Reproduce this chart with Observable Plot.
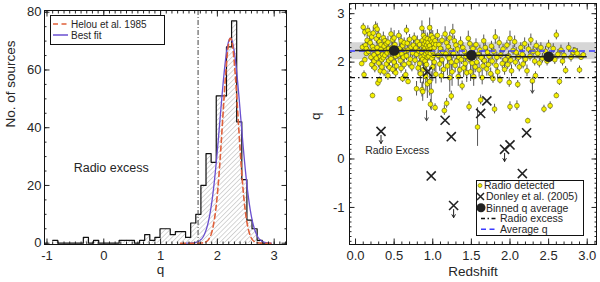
<!DOCTYPE html>
<html><head><meta charset="utf-8">
<script src="https://cdn.jsdelivr.net/npm/d3@7"></script>
<script src="https://cdn.jsdelivr.net/npm/@observablehq/plot@0.6"></script>
<style>
body{margin:0;background:#fff;}
#wrap{display:flex;width:600px;height:282px;}
svg{display:block}
</style></head><body><div id="wrap"></div>
<script>
const FONT = "'Liberation Sans', Arial, Helvetica, sans-serif";

// ---------- Left panel: histogram of q ----------
const binWidth = 0.09;
const binStart = [-0.90,-0.36,-0.18,0.27,0.36,0.45,0.63,0.72,0.81,0.90,0.99,1.08,1.17,1.26,1.35,1.44,1.53,1.62,1.71,1.80,1.89,1.98,2.07,2.16,2.25,2.34,2.43,2.52,2.61,2.70];
const binCount = [1,2,1,1,1,1,1,3,1,2,5,5,3,4,4,2,7,10,20,31,28,51,51,68,77,42,22,8,5,1];
// Gaussian curves (parameters)
const fitNames = ["Helou et al. 1985", "Best fit"];
const fitMean = [2.23, 2.23];
const fitSigma = [0.136, 0.183];
const fitPeak = [71, 71];
const fitRange = [[1.35, 2.95], [1.45, 2.95]];
const leftRadioExcess = 1.66;
const leftNotes = [{x: 0.13, y: 26.2, text: "Radio excess"}];

// ---------- Right panel: q vs redshift ----------
// [redshift, q, error]
const radioDetected = [
[0.08,1.97,0.05],[0.09,2.31,0.06],[0.10,2.72,0.08],[0.11,1.74,0.08],[0.12,2.62,0.1],[0.13,2.35,0.07],[0.14,2.18,0.06],[0.12,2.05,0.05],[0.15,2.45,0.1],[0.14,2.28,0.05],
[0.16,2.65,0.1],[0.17,2.22,0.08],[0.18,2.58,0.12],[0.19,2.40,0.1],[0.20,2.10,0.08],[0.21,2.52,0.1],[0.21,1.95,0.1],[0.22,2.32,0.06],[0.22,1.31,0.05],[0.23,2.25,0.1],[0.23,2.60,0.12],[0.24,2.15,0.08],[0.24,2.02,0.1],[0.25,1.88,0.1],
[0.26,2.73,0.1],[0.27,2.48,0.1],[0.27,2.08,0.08],[0.28,2.68,0.12],[0.28,2.30,0.1],[0.29,1.57,0.08],[0.29,2.20,0.1],[0.30,2.55,0.12],[0.30,1.98,0.1],[0.31,1.63,0.06],[0.31,2.42,0.1],[0.32,2.12,0.1],[0.32,1.82,0.1],[0.33,2.36,0.08],[0.33,2.26,0.1],[0.34,2.05,0.1],[0.34,1.90,0.08],[0.35,2.16,0.1],
[0.36,2.50,0.12],[0.36,2.09,0.1],[0.37,2.33,0.1],[0.37,1.80,0.1],[0.38,2.44,0.1],[0.38,2.14,0.08],[0.39,2.24,0.12],[0.40,1.96,0.1],[0.40,2.38,0.1],[0.41,2.19,0.1],[0.42,1.72,0.1],[0.42,2.41,0.12],[0.43,2.03,0.1],[0.43,2.28,0.1],[0.44,1.89,0.1],[0.45,2.21,0.1],
[0.46,2.58,0.12],[0.46,2.07,0.1],[0.47,2.30,0.12],[0.48,1.85,0.1],[0.48,2.46,0.1],[0.49,2.18,0.1],[0.50,2.50,0.15],[0.50,2.00,0.1],[0.51,2.36,0.1],[0.52,1.78,0.1],[0.52,2.12,0.1],[0.53,2.26,0.12],[0.53,1.92,0.1],[0.54,2.22,0.1],[0.55,2.15,0.1],
[0.56,2.55,0.1],[0.57,1.24,0.05],[0.57,2.28,0.1],[0.58,2.03,0.1],[0.59,2.44,0.12],[0.59,1.87,0.1],[0.60,2.17,0.1],[0.61,1.66,0.08],[0.61,2.34,0.1],[0.62,2.10,0.1],[0.63,1.95,0.1],[0.63,2.40,0.1],[0.64,2.23,0.1],[0.65,1.74,0.1],
[0.66,2.66,0.1],[0.66,2.13,0.1],[0.67,2.39,0.1],[0.68,1.60,0.06],[0.68,2.25,0.1],[0.69,1.98,0.1],[0.70,2.47,0.1],[0.71,2.06,0.1],[0.72,2.31,0.1],[0.73,1.90,0.1],[0.74,2.19,0.1],[0.75,2.35,0.1],
[0.76,2.50,0.1],[0.77,2.04,0.12],[0.78,2.29,0.1],[0.79,1.45,0.15],[0.79,2.16,0.1],[0.80,2.42,0.12],[0.81,1.88,0.15],[0.82,2.23,0.1],[0.83,1.97,0.12],[0.83,2.36,0.1],[0.84,1.76,0.2],[0.85,2.10,0.1],
[0.86,2.70,0.15],[0.86,2.20,0.1],[0.86,1.43,0.15],[0.87,2.45,0.12],[0.87,2.06,0.15],[0.87,1.39,0.2],[0.88,2.55,0.15],[0.88,2.32,0.12],[0.88,1.85,0.3],[0.89,2.38,0.1],[0.89,2.14,0.12],[0.89,2.26,0.15],[0.90,2.50,0.15],[0.90,2.02,0.2],[0.90,2.29,0.1],[0.91,2.42,0.12],[0.91,2.17,0.1],[0.91,1.70,0.3],[0.92,2.35,0.15],[0.92,2.23,0.1],[0.92,1.95,0.2],[0.93,2.48,0.12],[0.93,2.10,0.12],[0.93,1.55,0.3],[0.94,2.30,0.1],[0.94,2.40,0.12],[0.94,2.19,0.1],[0.95,2.25,0.15],[0.95,2.12,0.1],
[0.96,2.71,0.2],[0.96,2.34,0.1],[0.96,1.60,0.3],[0.97,2.46,0.15],[0.97,2.18,0.12],[0.97,1.13,0.1],[0.98,2.55,0.2],[0.98,2.27,0.1],[0.98,1.40,0.4],[0.99,2.42,0.12],[0.99,2.08,0.15],[1.00,2.50,0.15],[1.00,2.22,0.1],[1.00,1.90,0.3],[1.01,2.38,0.1],[1.01,2.14,0.12],[1.02,2.30,0.1],[1.02,2.00,0.2],[1.03,1.06,0.08],[1.03,2.44,0.12],[1.04,2.36,0.1],[1.04,1.75,0.2],
[1.06,2.55,0.12],[1.07,2.14,0.1],[1.08,2.36,0.12],[1.09,1.96,0.15],[1.10,2.28,0.1],[1.11,1.72,0.15],[1.12,2.45,0.1],[1.12,2.05,0.1],[1.13,2.21,0.1],[1.14,1.85,0.2],[1.15,1.00,0.1],
[1.16,2.58,0.15],[1.17,2.17,0.1],[1.18,1.15,0.1],[1.18,2.40,0.12],[1.19,1.92,0.2],[1.20,2.32,0.1],[1.21,2.08,0.1],[1.22,1.68,0.3],[1.22,2.50,0.12],[1.23,2.24,0.1],[1.24,1.30,0.1],[1.24,2.00,0.15],[1.25,1.80,0.3],
[1.26,2.63,0.15],[1.27,2.18,0.1],[1.28,2.44,0.1],[1.29,1.93,0.15],[1.30,2.35,0.1],[1.31,2.02,0.12],[1.32,2.27,0.1],[1.33,1.70,0.2],[1.34,2.10,0.1],[1.35,1.84,0.15],
[1.36,2.40,0.12],[1.37,2.05,0.1],[1.38,1.51,0.1],[1.39,2.30,0.1],[1.40,1.88,0.2],[1.41,2.22,0.1],[1.42,1.97,0.15],[1.43,2.12,0.1],[1.44,1.78,0.2],
[1.46,2.49,0.15],[1.47,1.08,0.1],[1.47,2.06,0.1],[1.48,2.38,0.12],[1.49,1.80,0.2],[1.50,2.20,0.1],[1.51,1.98,0.15],[1.52,2.28,0.1],[1.53,1.70,0.2],[1.54,2.13,0.1],[1.55,1.90,0.12],
[1.56,2.36,0.12],[1.57,2.00,0.15],[1.58,0.66,0.4],[1.59,2.16,0.1],[1.60,1.84,0.15],[1.61,2.25,0.1],[1.62,1.22,0.1],[1.63,2.09,0.1],[1.64,1.68,0.15],[1.65,1.92,0.1],
[1.66,2.44,0.12],[1.67,2.03,0.1],[1.68,2.30,0.1],[1.70,1.86,0.15],[1.71,2.20,0.1],[1.72,1.95,0.1],[1.73,2.12,0.1],[1.75,1.76,0.12],
[1.76,2.33,0.1],[1.77,2.02,0.1],[1.78,1.66,0.1],[1.79,2.22,0.1],[1.80,1.03,0.1],[1.81,2.52,0.15],[1.82,1.93,0.12],[1.83,2.10,0.1],[1.84,1.80,0.15],
[1.86,2.40,0.12],[1.87,1.63,0.08],[1.88,2.15,0.1],[1.90,1.97,0.1],[1.91,2.27,0.1],[1.93,1.85,0.12],[1.94,2.05,0.1],
[1.96,2.35,0.1],[1.97,1.95,0.1],[1.98,2.13,0.1],[1.99,1.58,0.1],[2.00,1.08,0.1],[2.00,2.49,0.15],[2.01,2.04,0.1],[2.02,1.82,0.12],[2.04,2.24,0.1],
[2.06,2.42,0.12],[2.07,2.00,0.1],[2.08,2.20,0.1],[2.09,1.10,0.1],[2.10,1.54,0.08],[2.11,2.10,0.1],[2.12,1.90,0.1],[2.14,2.30,0.1],
[2.16,2.16,0.1],[2.17,1.96,0.1],[2.19,2.38,0.12],[2.20,2.06,0.1],[2.22,1.82,0.12],[2.23,0.79,0.05],[2.24,2.27,0.1],
[2.26,2.12,0.1],[2.27,2.46,0.12],[2.29,1.61,0.08],[2.30,2.22,0.1],[2.32,2.02,0.1],[2.34,2.34,0.1],[2.33,1.72,0.08],
[2.36,2.18,0.1],[2.38,1.98,0.1],[2.40,2.30,0.1],[2.42,2.08,0.1],[2.44,1.03,0.08],
[2.46,2.22,0.1],[2.48,2.02,0.1],[2.50,2.35,0.1],[2.52,1.10,0.08],[2.54,2.12,0.1],
[2.56,2.28,0.1],[2.58,2.05,0.1],[2.60,2.56,0.1],[2.60,1.31,0.06],[2.62,2.16,0.1],[2.64,1.60,0.08],
[2.66,2.25,0.1],[2.68,2.02,0.1],[2.70,2.14,0.1],[2.72,1.83,0.08],
[2.76,2.30,0.1],[2.79,2.10,0.1],[2.82,2.20,0.1],[2.84,2.24,0.06],
[2.87,2.18,0.1],[2.90,1.84,0.08],[2.92,2.10,0.06],[2.95,2.15,0.05]
];
const radioLimits = [[0.92,1.04],[2.29,1.61]];
const donley = [[0.33,0.57],[0.93,1.80],[0.98,-0.35],[1.16,0.80],[1.24,0.46],[1.27,-0.96],[1.62,0.94],[1.70,1.20],[1.93,0.20],[2.00,0.29],[2.16,-0.30],[2.215,0.54]];
const donleyLimits = [[0.33,0.57],[1.27,-0.96],[1.93,0.20]];
const binnedZ = [0.5, 1.5, 2.5];
const binnedQ = [2.24, 2.14, 2.11];
const binnedHalfWidth = 0.5;
const averageQ = 2.23;
const averageBand = [2.05, 2.40];
const rightRadioExcess = 1.68;
const rightNotes = [{x: 0.54, y: 0.18, text: "Radio Excess"}];
const arrowLen = 0.25;

// ---------- derived tables ----------
const bins = binStart.map((s, i) => ({x1: s, x2: +(s + binWidth).toFixed(2), c: binCount[i]}));
const countByKey = new Map(bins.map(b => [b.x1.toFixed(2), b.c]));
const outline = [];
for (let k = -10; k <= 31; k++) {
  const x0 = +(k * binWidth).toFixed(2), x1 = +((k + 1) * binWidth).toFixed(2);
  const c = countByKey.get(x0.toFixed(2)) || 0;
  outline.push({x: x0, y: c}, {x: x1, y: c});
}
const curves = [];
fitNames.forEach((name, i) => {
  for (let x = fitRange[i][0]; x <= fitRange[i][1] + 1e-9; x += 0.005) {
    curves.push({name, x, y: fitPeak[i] * Math.exp(-0.5 * ((x - fitMean[i]) / fitSigma[i]) ** 2)});
  }
});
const radio = radioDetected.map(([z, q, e]) => ({z, q, e}));
const binned = binnedZ.map((z, i) => ({z, q: binnedQ[i]}));

const fmtStr = d => String(d);
const blank = () => "";
const INK = "#262626";

function frameAxes(xMajor, xMinor, yMajor, yMinor, xFmt, yFmt, xPad, yPad) {
  return [
    Plot.axisX({ticks: xMinor, tickSize: -2.5, tickFormat: blank, label: null, anchor: "bottom"}),
    Plot.axisX({ticks: xMinor, tickSize: -2.5, tickFormat: blank, label: null, anchor: "top"}),
    Plot.axisX({ticks: xMajor, tickSize: -5.5, tickFormat: blank, label: null, anchor: "bottom"}),
    Plot.axisX({ticks: xMajor, tickSize: -5.5, tickFormat: blank, label: null, anchor: "top"}),
    Plot.axisY({ticks: yMinor, tickSize: -2.5, tickFormat: blank, label: null, anchor: "left"}),
    Plot.axisY({ticks: yMinor, tickSize: -2.5, tickFormat: blank, label: null, anchor: "right"}),
    Plot.axisY({ticks: yMajor, tickSize: -5.5, tickFormat: blank, label: null, anchor: "left"}),
    Plot.axisY({ticks: yMajor, tickSize: -5.5, tickFormat: blank, label: null, anchor: "right"}),
    Plot.axisX({ticks: xMajor, tickSize: 0, tickPadding: xPad, tickFormat: xFmt, label: null, anchor: "bottom", fontSize: 13, fill: INK}),
    Plot.axisY({ticks: yMajor, tickSize: 0, tickPadding: yPad, tickFormat: yFmt, label: null, anchor: "left", fontSize: 13, fill: INK}),
    Plot.frame({stroke: "#111", strokeWidth: 1})
  ];
}

// ---------- Left plot ----------
const left = Plot.plot({
  width: 300, height: 282,
  marginLeft: 44, marginRight: 14, marginTop: 10, marginBottom: 38,
  x: {domain: [-1.044, 3.217]},
  y: {domain: [-0.45, 80.6]},
  style: {fontFamily: FONT, fontSize: "13px", background: "white", color: INK, overflow: "visible"},
  marks: [
    Plot.rect(bins, {x1: "x1", x2: "x2", y1: 0, y2: "c", fill: "url(#hatch)"}),
    Plot.line(outline, {x: "x", y: "y", stroke: "#111", strokeWidth: 1.2}),
    Plot.line(curves.filter(d => d.name === fitNames[1]), {x: "x", y: "y", stroke: "#6a4fd0", strokeWidth: 1.3}),
    Plot.line(curves.filter(d => d.name === fitNames[0]), {x: "x", y: "y", stroke: "#e0603a", strokeWidth: 1.6, strokeDasharray: "5,3.5"}),
    Plot.ruleX([leftRadioExcess], {stroke: "#444", strokeWidth: 1, strokeDasharray: "5,2,1,2"}),
    Plot.text(leftNotes, {x: "x", y: "y", text: "text", fontSize: 12.5, fill: INK}),
    ...frameAxes([-1,0,1,2,3], d3.range(-10, 33).map(k => k / 10), [0,20,40,60,80], d3.range(0, 81, 5), fmtStr, fmtStr, 6, 3),
    Plot.text(["q"], {frameAnchor: "bottom", dy: 25, dx: -5, fontSize: 13.5, fill: INK, lineAnchor: "middle"}),
    Plot.text(["No. of sources"], {frameAnchor: "left", dx: -34, rotate: -90, fontSize: 13.5, fill: INK})
  ]
});
d3.select(left).insert("defs", ":first-child").html(
  `<pattern id="hatch" patternUnits="userSpaceOnUse" width="3.4" height="3.4" patternTransform="rotate(45)">
     <line x1="0" y1="0" x2="0" y2="3.4" stroke="#8a8a8a" stroke-width="0.7"/></pattern>`);
{
  const g = d3.select(left).append("g").attr("font-family", FONT).attr("font-size", 10).attr("fill", INK).attr("text-anchor", "start");
  g.append("rect").attr("x", 50.5).attr("y", 15.5).attr("width", 114).attr("height", 29).attr("fill", "white").attr("stroke", "#111");
  g.append("line").attr("x1", 53).attr("x2", 68).attr("y1", 24).attr("y2", 24).attr("stroke", "#e0603a").attr("stroke-width", 1.6).attr("stroke-dasharray", "5,3.5");
  g.append("line").attr("x1", 53).attr("x2", 68).attr("y1", 35).attr("y2", 35).attr("stroke", "#6a4fd0").attr("stroke-width", 1.5);
  g.append("text").attr("x", 71).attr("y", 27.5).text(fitNames[0]);
  g.append("text").attr("x", 71).attr("y", 38.5).text(fitNames[1]);
}

// ---------- Right plot ----------
const right = Plot.plot({
  width: 300, height: 282,
  marginLeft: 49, marginRight: 4, marginTop: 3, marginBottom: 38,
  x: {domain: [-0.078, 3.12]},
  y: {domain: [-1.765, 3.21]},
  style: {fontFamily: FONT, fontSize: "13px", background: "white", color: INK, overflow: "visible"},
  marks: [
    Plot.rect([averageBand], {y1: d => d[0], y2: d => d[1], fill: "#d6d6d6"}),
    Plot.ruleX(radio, {x: "z", y1: d => d.q - d.e, y2: d => d.q + d.e, stroke: "#555", strokeWidth: 1}),
    Plot.dot(radio, {x: "z", y: "q", r: 2.4, fill: "#f4f000", stroke: "#5a5a10", strokeWidth: 0.6}),
    Plot.arrow(radioLimits, {x1: d => d[0], y1: d => d[1], x2: d => d[0], y2: d => d[1] - arrowLen, stroke: "#444", strokeWidth: 1, headLength: 5, insetStart: 2}),
    Plot.ruleY([averageQ], {stroke: "#3a3aff", strokeWidth: 1.5, strokeDasharray: "6,4"}),
    Plot.ruleY(binned, {y: "q", x1: d => d.z - binnedHalfWidth, x2: d => d.z + binnedHalfWidth, stroke: "#222", strokeWidth: 1.5}),
    Plot.ruleY([rightRadioExcess], {stroke: "#111", strokeWidth: 1.4, strokeDasharray: "6,3,1.5,3"}),
    Plot.dot(binned, {x: "z", y: "q", r: 5.3, fill: "#222"}),
    Plot.dot(donley, {x: d => d[0], y: d => d[1], symbol: "times", r: 4.2, stroke: "#222", strokeWidth: 1.6}),
    Plot.arrow(donleyLimits, {x1: d => d[0], y1: d => d[1], x2: d => d[0], y2: d => d[1] - arrowLen, stroke: "#222", strokeWidth: 1, headLength: 5, insetStart: 4}),
    Plot.text(rightNotes, {x: "x", y: "y", text: "text", fontSize: 10.5, fill: INK}),
    ...frameAxes([0,0.5,1,1.5,2,2.5,3], d3.range(0, 32).map(k => k / 10), [-1,0,1,2,3], d3.range(-17, 33).map(k => k / 10), d3.format(".1f"), fmtStr, 6, 5),
    Plot.text(["Redshift"], {frameAnchor: "bottom", dy: 27, fontSize: 13.5, fill: INK, lineAnchor: "middle"}),
    Plot.text(["q"], {frameAnchor: "left", dx: -34, dy: -4, rotate: -90, fontSize: 13.5, fill: INK})
  ]
});
{
  const g = d3.select(right).append("g").attr("font-family", FONT).attr("font-size", 10.5).attr("fill", INK).attr("text-anchor", "start");
  const ox = -300;
  g.append("rect").attr("x", 476.5 + ox).attr("y", 180.5).attr("width", 107).attr("height", 55).attr("fill", "white").attr("stroke", "#111");
  g.append("circle").attr("cx", 480 + ox).attr("cy", 185.5).attr("r", 2).attr("fill", "#f4f000").attr("stroke", "#5a5a10").attr("stroke-width", 0.6);
  g.append("text").attr("x", 484 + ox).attr("y", 189.3).text("Radio detected");
  g.append("path").attr("d", `M${477 + ox},${193}L${484 + ox},${200}M${484 + ox},${193}L${477 + ox},${200}`).attr("stroke", "#222").attr("stroke-width", 1.5);
  g.append("text").attr("x", 486 + ox).attr("y", 200.3).text("Donley et al. (2005)");
  g.append("circle").attr("cx", 481 + ox).attr("cy", 207.7).attr("r", 4.5).attr("fill", "#222");
  g.append("text").attr("x", 486 + ox).attr("y", 211.5).text("Binned q average");
  g.append("line").attr("x1", 481 + ox).attr("x2", 497 + ox).attr("y1", 218.5).attr("y2", 218.5).attr("stroke", "#111").attr("stroke-width", 1.3).attr("stroke-dasharray", "4,2.5,1.5,2.5");
  g.append("text").attr("x", 500 + ox).attr("y", 222.3).text("Radio excess");
  g.append("line").attr("x1", 481 + ox).attr("x2", 497 + ox).attr("y1", 229.3).attr("y2", 229.3).attr("stroke", "#3a3aff").attr("stroke-width", 1.5).attr("stroke-dasharray", "5,3.5");
  g.append("text").attr("x", 500 + ox).attr("y", 233.1).text("Average q");
}

document.getElementById("wrap").append(left, right);
</script></body></html>
